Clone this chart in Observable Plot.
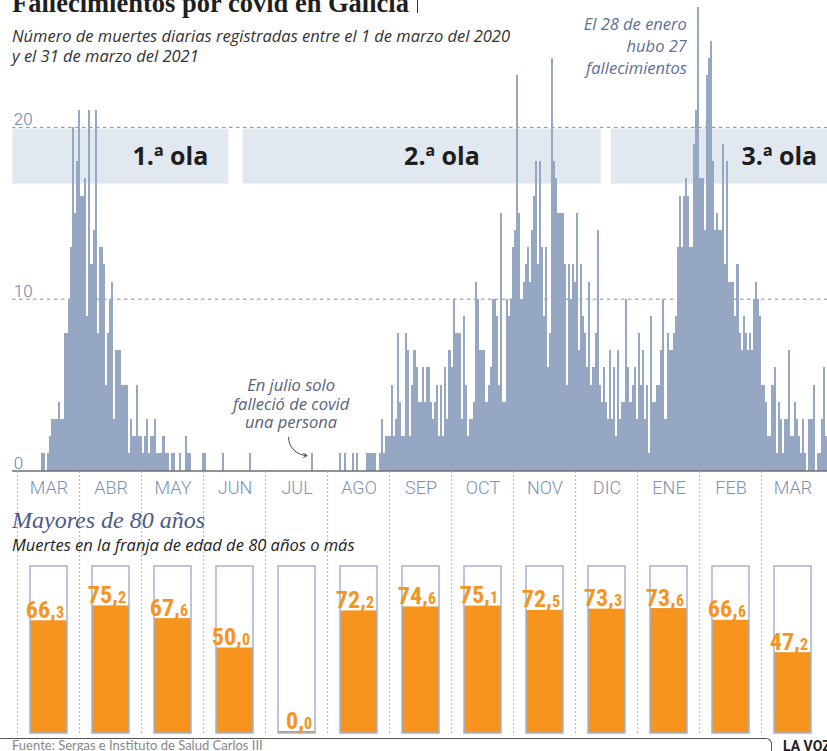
<!DOCTYPE html>
<html><head><meta charset="utf-8">
<script src="https://cdn.jsdelivr.net/npm/d3@7"></script>
<script src="https://cdn.jsdelivr.net/npm/@observablehq/plot@0.6"></script>
<style>
html,body{margin:0;padding:0;background:#fff;overflow:hidden}
#wrap{position:relative;width:827px;height:751px;overflow:hidden;font-family:Lato,sans-serif}
.abs{position:absolute;white-space:nowrap}
#topc{left:0;top:0}
#bottomc{left:0;top:471px}
#title{left:12px;top:-10px;font:700 26.5px/27px "Liberation Serif",serif;color:#1f1f1f;z-index:2}
#title span{display:inline-block;width:1.5px;height:15px;background:#333;margin-left:8px;vertical-align:-1px}
#subtitle{left:12px;top:26px;font:italic 400 16.5px/20px "Open Sans",sans-serif;color:#333;z-index:2}
#sec{left:12px;top:506px;font:italic 400 24px/28px "Liberation Serif",serif;color:#4b5a87;z-index:2}
#secsub{left:12px;top:535px;font:italic 400 16.5px/20px "Open Sans",sans-serif;color:#222;z-index:2}
#source{left:12px;top:738px;font:400 13px/14px Lato,sans-serif;color:#888;z-index:2}
#rule{left:0;top:738px;width:772px;height:20px;border-top:1px solid #555;border-right:1px solid #555;border-top-right-radius:6px;box-sizing:border-box}
#brand{left:783px;top:738px;font:700 14px/16px "Liberation Sans Narrow","Roboto",sans-serif;color:#222}
</style></head>
<body><div id="wrap">
<div id="topc" class="abs"></div>
<div id="bottomc" class="abs"></div>
<div id="title" class="abs">Fallecimientos por covid en Galicia<span></span></div>
<div id="subtitle" class="abs">Número de muertes diarias registradas entre el 1 de marzo del 2020<br>y el 31 de marzo del 2021</div>
<div id="sec" class="abs">Mayores de 80 años</div>
<div id="secsub" class="abs">Muertes en la franja de edad de 80 años o más</div>
<div id="rule" class="abs"></div>
<div id="source" class="abs">Fuente: Sergas e Instituto de Salud Carlos III</div>
<div id="brand" class="abs">LA VOZ</div>
</div>
<script>
// ---------- DATA ----------
const startDate = "2020-03-01";
const endDate = "2021-04-01";
const deaths = [
  // Mar 2020
  0,0,0,0,0,0,0,0,0,0,0,0,0,0,1,1,0,1,2,3,3,3,4,3,3,8,8,10,13,20,15,
  // Apr
  18,21,16,16,17,9,21,12,14,21,8,13,13,12,5,8,10,11,3,7,7,7,5,5,5,1,3,2,2,5,
  // May
  2,2,1,2,3,1,2,2,3,1,1,1,2,1,1,0,1,1,0,0,1,0,0,2,1,1,0,0,0,0,0,
  // Jun
  1,1,0,0,0,0,0,0,0,0,1,0,0,0,0,0,0,0,0,0,0,0,0,1,0,0,0,0,0,0,
  // Jul
  0,0,0,0,0,0,0,0,0,0,0,0,0,0,0,0,0,0,0,0,0,0,0,1,0,0,0,0,0,0,0,
  // Aug
  0,0,0,0,0,0,1,0,1,0,0,0,1,0,1,0,0,0,0,1,1,1,1,1,0,1,3,1,2,2,2,
  // Sep
  5,2,3,8,4,2,2,8,7,2,5,7,6,4,4,6,4,6,6,4,3,4,5,2,5,2,6,3,7,6,
  // Oct
  10,8,8,8,3,9,5,2,3,3,4,11,10,7,7,7,4,5,6,10,10,9,5,15,4,4,10,9,10,13,14,
  // Nov
  23,15,10,11,12,13,11,14,16,18,12,18,13,9,13,6,8,24,18,17,15,15,15,12,5,12,10,12,11,15,
  // Dec
  7,12,9,8,6,11,5,6,8,14,5,4,6,4,3,7,3,6,2,7,3,4,4,10,6,4,5,6,3,8,5,
  // Jan 2021
  7,3,5,1,9,4,4,5,5,7,10,3,8,7,7,8,9,13,16,13,16,17,16,13,13,19,21,27,17,17,14,
  // Feb
  23,24,25,18,14,15,14,14,19,12,18,11,11,11,9,12,8,7,9,8,7,8,7,10,11,10,9,5,
  // Mar
  5,4,2,2,5,6,1,4,3,1,3,3,7,2,2,4,3,2,1,3,1,0,3,3,5,0,1,1,3,6,2
];
const yTicks = [0, 10, 20];
const waveLabels = ["1.ª ola", "2.ª ola", "3.ª ola"];
const waveStarts = ["2020-03-01", "2020-06-21", "2020-12-17"];
const waveEnds = ["2020-06-14", "2020-12-12", "2021-04-01"];
const waveLabelDates = ["2020-06-04", "2020-10-14", "2021-03-27"];
const noteDates = ["2020-07-24", "2021-01-28"];
const noteValues = [1, 27];
const noteTexts = ["En julio solo\nfalleció de covid\nuna persona", "El 28 de enero\nhubo 27\nfallecimientos"];

const monthKeys = ["2020-03","2020-04","2020-05","2020-06","2020-07","2020-08","2020-09","2020-10","2020-11","2020-12","2021-01","2021-02","2021-03"];
const monthLabels = ["MAR","ABR","MAY","JUN","JUL","AGO","SEP","OCT","NOV","DIC","ENE","FEB","MAR"];
const over80 = [66.3, 75.2, 67.6, 50.0, 0.0, 72.2, 74.6, 75.1, 72.5, 73.3, 73.6, 66.6, 47.2];

// ---------- TABLES ----------
const parse = d3.utcParse("%Y-%m-%d");
const t0 = parse(startDate);
const daily = deaths.map((v, i) => ({date: d3.utcDay.offset(t0, i), value: v}));
const waves = waveLabels.map((l, i) => ({label: l, start: parse(waveStarts[i]), end: parse(waveEnds[i]), labelDate: parse(waveLabelDates[i])}));
const notes = noteTexts.map((t, i) => ({date: parse(noteDates[i]), value: noteValues[i], text: t}));
const monthly = monthKeys.map((k, i) => {
  const [a, b] = over80[i].toFixed(1).split(".");
  return {key: k, label: monthLabels[i], pct: over80[i], intPart: a + ",", decPart: b};
});

const condensed = "'Liberation Sans Narrow', 'Roboto Condensed', 'DejaVu Sans Condensed', Roboto, sans-serif";

// ---------- TOP CHART ----------
const topChart = Plot.plot({
  width: 827, height: 475,
  marginLeft: 12, marginRight: 0, marginTop: 0, marginBottom: 0,
  style: {fontFamily: "Lato, sans-serif", background: "transparent", overflow: "visible"},
  x: {type: "utc", domain: [t0, parse(endDate)], range: [12.3, 827], axis: null},
  y: {domain: [0, 27], range: [470.5, 6.6], axis: null},
  marks: [
    Plot.ruleY(yTicks.filter(d => d > 0), {stroke: "#7f90ad", strokeDasharray: "3.5,3.5", strokeWidth: 1}),
    Plot.rect(waves, {x1: "start", x2: "end", y1: () => 16.7, y2: () => 19.9, fill: "#e2e8f0"}),
    Plot.rectY(daily, {x: "date", y: "value", interval: "day", inset: 0, fill: "#96a7c3", shapeRendering: "crispEdges"}),
    Plot.ruleY([0], {stroke: "#6e6e6e", strokeWidth: 1.5}),
    Plot.text(yTicks, {x: () => t0, y: d => d, text: d => String(d), textAnchor: "start", lineAnchor: "bottom", dx: 1, dy: -2, fontSize: 17, fontWeight: 300, fill: "#6b80a6", fontFamily: "Roboto, sans-serif"}),
    Plot.text(waves, {x: "labelDate", y: () => 18.3, text: "label", textAnchor: "end", lineAnchor: "middle", fontSize: 25, fontWeight: 700, fill: "#1e1e1e", fontFamily: "'Open Sans', sans-serif"}),
    Plot.text([notes[0]], {x: "date", y: "value", text: "text", textAnchor: "middle", lineAnchor: "middle", dx: -20, dy: -50, lineHeight: 1.11, fontSize: 16.5, fontStyle: "italic", fill: "#59627a", fontFamily: "'Open Sans', sans-serif"}),
    Plot.arrow([notes[0]], {x1: d => d3.utcDay.offset(d.date, -11), y1: d => d.value + 0.95, x2: d => d3.utcDay.offset(d.date, -2), y2: d => d.value - 0.1, bend: -45, headLength: 6, stroke: "#444", strokeWidth: 1}),
    Plot.text([notes[1]], {x: "date", y: "value", text: "text", textAnchor: "end", lineAnchor: "middle", dx: -11, dy: 38, lineHeight: 1.32, fontSize: 16.5, fontStyle: "italic", fill: "#5d7196", fontFamily: "'Open Sans', sans-serif"})
  ]
});
document.getElementById("topc").appendChild(topChart);

// ---------- BOTTOM CHART ----------
const bottomChart = Plot.plot({
  width: 827, height: 280,
  marginLeft: 0, marginRight: 0, marginTop: 0, marginBottom: 16,
  style: {fontFamily: "Lato, sans-serif", background: "transparent"},
  x: {type: "band", domain: monthKeys, range: [12.3, 828.7], paddingInner: 0.4, paddingOuter: 0.2, axis: null},
  y: {domain: [0, 100], range: [262, 95], axis: null},
  marks: [
    Plot.ruleX(monthKeys, {x: d => d, dx: -31.4, stroke: "#a9b7d2", strokeDasharray: "2,2", strokeWidth: 1}),
    Plot.barY(monthly, {x: "key", y: "pct", fill: "#f7941d", insetTop: -2}),
    Plot.barY(monthly, {x: "key", y: () => 100, fill: "none", stroke: "#a3b4d4", strokeWidth: 1.5}),
    Plot.text(monthly, {x: "key", text: "label", frameAnchor: "top", dy: 17, lineAnchor: "middle", fontSize: 18, fontWeight: 300, fill: "#7b91b5", fontFamily: "Roboto, sans-serif"}),
    Plot.text(monthly, {x: "key", y: "pct", text: "intPart", textAnchor: "end", lineAnchor: "bottom", dx: 7, dy: -5, fontSize: 24, fontWeight: 700, fill: "#f7941d", fontFamily: condensed}),
    Plot.text(monthly, {x: "key", y: "pct", text: "decPart", textAnchor: "start", lineAnchor: "bottom", dx: 7, dy: -5, fontSize: 16, fontWeight: 700, fill: "#f7941d", fontFamily: condensed})
  ]
});
document.getElementById("bottomc").appendChild(bottomChart);
</script>
</body></html>
